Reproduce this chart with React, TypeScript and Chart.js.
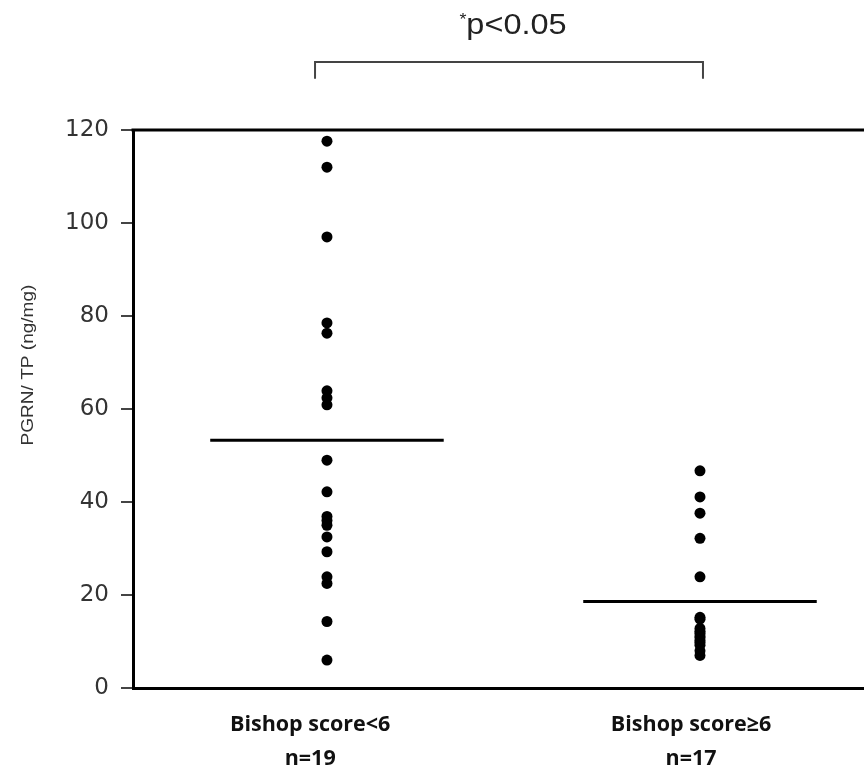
import { useEffect, useRef } from "react";
import { Chart, registerables } from "chart.js";

Chart.register(...registerables);

// ---- data ----
const categories: string[][] = [
  ["Bishop score<6", "n=19"],
  ["Bishop score≥6", "n=17"],
];
const groupPositions = [0.5, 1.5];
const labelPositions = [0.455, 1.476];
const xRange = [-0.02, 2];
const group1Values = [
  117.6, 112.0, 97.0, 78.5, 76.3, 63.9, 62.4, 60.9, 49.0, 42.2, 36.9, 36.0,
  35.0, 32.5, 29.3, 23.9, 22.5, 14.3, 6.0,
];
const group2Values = [
  46.7, 41.1, 37.6, 32.2, 23.9, 15.2, 14.8, 12.8, 12.2, 11.8, 11.2, 10.8, 10.2,
  9.8, 9.2, 8.0, 7.0,
];
const groupMeans = [53.3, 18.6];
const yTicks = [0, 20, 40, 60, 80, 100, 120];
const yTitle = "PGRN/ TP (ng/mg)";
const annotationStar = "*";
const annotationText = "p<0.05";
const bracketRange = [0.468, 1.508];
const bracketY = [134.6, 131.0];
const annotationY = 142.3;
const meanHalfWidth = 0.313;

const annotationPlugin = {
  id: "annot",
  afterDraw(chart: any) {
    const { ctx, chartArea, scales } = chart;
    const x = scales.x;
    const y = scales.y;
    ctx.save();
    // top border
    ctx.strokeStyle = "#000";
    ctx.lineWidth = 3;
    ctx.beginPath();
    ctx.moveTo(chartArea.left - 1.5, chartArea.top);
    ctx.lineTo(chartArea.right, chartArea.top);
    ctx.stroke();
    // bracket
    const bx1 = x.getPixelForValue(bracketRange[0]);
    const bx2 = x.getPixelForValue(bracketRange[1]);
    const by1 = y.getPixelForValue(bracketY[0]);
    const by2 = y.getPixelForValue(bracketY[1]);
    ctx.strokeStyle = "#444";
    ctx.lineWidth = 2;
    ctx.beginPath();
    ctx.moveTo(bx1, by2);
    ctx.lineTo(bx1, by1);
    ctx.lineTo(bx2, by1);
    ctx.lineTo(bx2, by2);
    ctx.stroke();
    // annotation text
    const cx = (bx1 + bx2) / 2 + 4;
    const ty = y.getPixelForValue(annotationY);
    ctx.fillStyle = "#222";
    ctx.textBaseline = "middle";
    ctx.save();
    ctx.translate(cx, ty);
    ctx.scale(1.12, 1);
    ctx.font = "29px 'Liberation Sans', Arial, sans-serif";
    const w = ctx.measureText(annotationText).width;
    ctx.font = "16px 'Liberation Sans', Arial, sans-serif";
    const ws = ctx.measureText(annotationStar).width;
    const total = w + ws;
    ctx.textAlign = "left";
    ctx.fillText(annotationStar, -total / 2, -6);
    ctx.font = "29px 'Liberation Sans', Arial, sans-serif";
    ctx.fillText(annotationText, -total / 2 + ws, 0);
    ctx.restore();
    // y title
    ctx.save();
    ctx.translate(28, (chartArea.top + chartArea.bottom) / 2 - 44);
    ctx.rotate(-Math.PI / 2);
    ctx.fillStyle = "#333";
    ctx.textAlign = "center";
    ctx.textBaseline = "middle";
    ctx.font = "17px 'Liberation Sans', Arial, sans-serif";
    ctx.scale(1.12, 1);
    ctx.fillText(yTitle, 0, 0);
    ctx.restore();
    ctx.restore();
  },
};

export default function App() {
  const ref = useRef<HTMLCanvasElement | null>(null);
  useEffect(() => {
    if (!ref.current) return;
    const pointSets = [group1Values, group2Values].map((vals, i) => ({
      type: "scatter" as const,
      data: vals.map((v) => ({ x: groupPositions[i], y: v })),
      backgroundColor: "#000",
      borderColor: "#000",
      pointRadius: 5.5,
      pointHoverRadius: 5.5,
      borderWidth: 0,
    }));
    const meanSets = groupMeans.map((m, i) => ({
      type: "line" as const,
      data: [
        { x: groupPositions[i] - meanHalfWidth, y: m },
        { x: groupPositions[i] + meanHalfWidth, y: m },
      ],
      borderColor: "#000",
      borderWidth: 3,
      pointRadius: 0,
      showLine: true,
      fill: false,
    }));
    const chart = new Chart(ref.current, {
      type: "scatter",
      data: { datasets: [...pointSets, ...meanSets] as any },
      options: {
        animation: false,
        responsive: false,
        layout: { padding: { top: 130, left: 0, right: 13.5, bottom: 0 } },
        plugins: { legend: { display: false }, tooltip: { enabled: false } },
        scales: {
          x: {
            type: "linear",
            min: xRange[0],
            max: xRange[1],
            afterBuildTicks: (axis: any) => {
              axis.ticks = labelPositions.map((v) => ({ value: v }));
            },
            afterFit: (axis: any) => {
              axis.height = 88;
            },
            ticks: {
              callback: (value: any) => categories[labelPositions.indexOf(value)],
              font: { family: "'Open Sans', sans-serif", size: 21.5, weight: "bold", lineHeight: 1.62 },
              color: "#111",
              padding: 11,
              maxRotation: 0,
              autoSkip: false,
            },
            grid: { display: false },
            border: { display: true, color: "#000", width: 3 },
          },
          y: {
            type: "linear",
            min: 0,
            max: 120,
            afterBuildTicks: (axis: any) => {
              axis.ticks = yTicks.map((v) => ({ value: v }));
            },
            afterFit: (axis: any) => {
              axis.width = 133;
            },
            ticks: {
              font: { family: "'DejaVu Sans', sans-serif", size: 23 },
              color: "#333",
              padding: 12,
            },
            grid: {
              drawOnChartArea: false,
              drawTicks: true,
              tickLength: 12,
              color: "#444",
              lineWidth: 2,
            },
            border: { display: true, color: "#000", width: 3 },
          },
        },
      },
      plugins: [annotationPlugin],
    });
    return () => chart.destroy();
  }, []);
  return (
    <div
      style={{
        position: "absolute",
        left: 0,
        top: 0,
        width: 864,
        height: 776,
        overflow: "hidden",
        background: "#fff",
      }}
    >
      <canvas ref={ref} width={900} height={776} style={{ display: "block" }} />
    </div>
  );
}
